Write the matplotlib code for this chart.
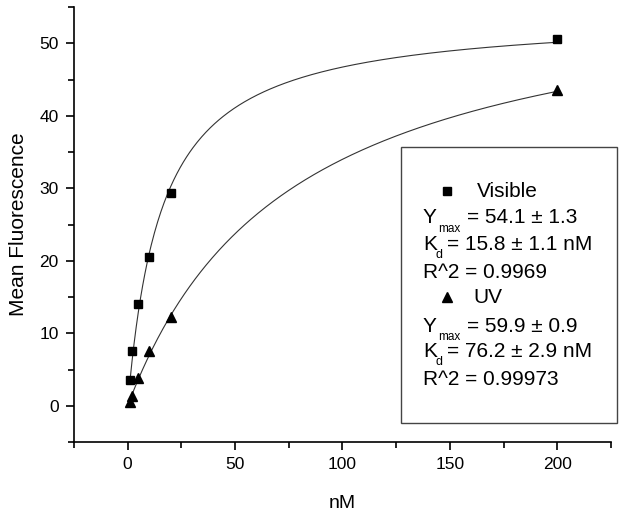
import numpy as np
import matplotlib; matplotlib.use('Agg')
import matplotlib.pyplot as plt
from matplotlib.ticker import MultipleLocator
from matplotlib.patches import Rectangle

plt.rcParams['font.family'] = ['Liberation Sans', 'DejaVu Sans']

# data
conc = [1, 2, 5, 10, 20, 200]
vis = [3.5, 7.6, 14.0, 20.5, 29.3, 50.6]
uv = [0.5, 1.4, 3.8, 7.5, 12.2, 43.5]
# fit parameters (from legend)
vis_ymax, vis_kd = 54.1, 15.8
uv_ymax, uv_kd = 59.9, 76.2

W, H = 629, 516
fig = plt.figure(figsize=(W/100, H/100), dpi=100)
ax = fig.add_axes([0.1176, 0.1434, 0.8538, 0.843])
xf = np.linspace(1, 200, 400)
ax.plot(xf, vis_ymax*xf/(vis_kd+xf), color='#333333', lw=0.8)
ax.plot(xf, uv_ymax*xf/(uv_kd+xf), color='#333333', lw=0.8)
ax.plot(conc, vis, 's', color='black', ms=6)
ax.plot(conc, uv, '^', color='black', ms=7)

ax.set_xlim(-25, 225); ax.set_ylim(-5, 55)
ax.xaxis.set_major_locator(MultipleLocator(50)); ax.xaxis.set_minor_locator(MultipleLocator(25))
ax.yaxis.set_major_locator(MultipleLocator(10)); ax.yaxis.set_minor_locator(MultipleLocator(5))
for s in ['top', 'right']: ax.spines[s].set_visible(False)
for s in ['left', 'bottom']: ax.spines[s].set_linewidth(1.2)
ax.tick_params(which='major', length=6, width=1.2, labelsize=12.5, pad=5)
ax.tick_params(which='minor', length=4, width=1.2)
ax.set_xlabel('nM', fontsize=14, labelpad=16)
ax.set_ylabel('Mean Fluorescence', fontsize=15, labelpad=8)

def px(x, y): return x/W, 1-y/H
def txt(x, y, s, fs=15):
    fig.text(*px(x, y), s, fontsize=fs, va='baseline', ha='left')

# legend box
fig.patches.append(Rectangle(px(401, 423), 216/W, 276/H, transform=fig.transFigure,
                             fill=False, edgecolor='#444444', lw=1.0))
fig.lines.append(plt.Line2D(*[[v] for v in px(447, 191)], marker='s', color='black', ms=6, transform=fig.transFigure))
txt(477, 197, 'Visible')
txt(423, 223, 'Y'); txt(438, 232, 'max', 8.5); txt(467, 223, '= 54.1 ± 1.3')
txt(423, 250, 'K'); txt(436, 258, 'd', 9); txt(447, 250, '= 15.8 ± 1.1 nM')
txt(423, 278, 'R^2 = 0.9969')
fig.lines.append(plt.Line2D(*[[v] for v in px(447, 297)], marker='^', color='black', ms=7, transform=fig.transFigure))
txt(473, 303, 'UV')
txt(423, 332, 'Y'); txt(438, 340, 'max', 8.5); txt(467, 332, '= 59.9 ± 0.9')
txt(423, 357, 'K'); txt(436, 365, 'd', 9); txt(447, 357, '= 76.2 ± 2.9 nM')
txt(423, 385, 'R^2 = 0.99973')

fig.savefig('out.png', dpi=100)
